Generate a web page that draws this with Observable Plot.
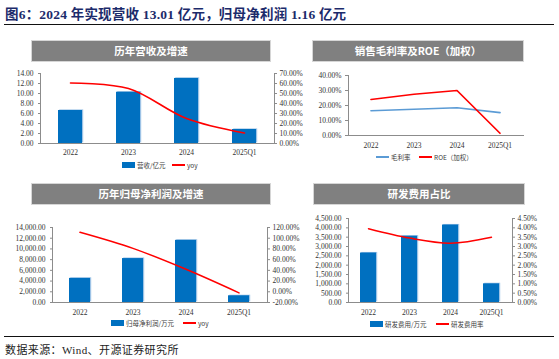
<!DOCTYPE html>
<html><head><meta charset="utf-8">
<script src="https://cdn.jsdelivr.net/npm/d3@7"></script>
<script src="https://cdn.jsdelivr.net/npm/@observablehq/plot@0.6"></script>
<style>
html,body{margin:0;padding:0;background:#fff;}
#page{position:relative;width:559px;height:359px;overflow:hidden;background:#fff;}
#page svg text{font-family:"Liberation Serif",serif !important;font-size:7.5px;fill:#333;}
.abs{position:absolute;}
.title{left:5px;top:3px;font:bold 13.5px "Liberation Serif","Noto Sans CJK SC",serif;color:#1c2b6b;white-space:nowrap;letter-spacing:0.2px;}
.rule{height:1px;background:#111;left:4px;width:550px;}
.hdr{background:#808080;border:1px solid #d6d6d6;color:#fff;font:bold 10.5px "Noto Sans CJK SC",sans-serif;text-align:center;box-sizing:border-box;}
.lg{font:6.5px "Noto Sans CJK SC","Liberation Serif",sans-serif;color:#404040;white-space:nowrap;}
.src{left:5px;top:341px;font:11px "Liberation Serif","Noto Sans CJK SC",serif;color:#222;white-space:nowrap;letter-spacing:0.4px;}
</style></head>
<body><div id="page"></div>
<script>
const categories = ["2022","2023","2024","2025Q1"];
const revenue = [6.6, 10.25, 13.01, 2.8];          // 营收/亿元
const revenueYoy = [60.5, 55, 25, 10.5];           // yoy %
const grossMargin = [16.5, 17.5, 18.5, 15.2];      // 毛利率 %
const roe = [24, 27.5, 30, 1.5];                   // ROE（加权）%
const netProfit = [4500, 8200, 11600, 1250];       // 归母净利润/万元
const netProfitYoy = [111, 81, 42, -2];            // yoy %
const rdExpense = [2650, 3550, 4150, 1000];        // 研发费用/万元
const rdRatio = [3.95, 3.45, 3.18, 3.5];           // 研发费用率 %

const page = document.getElementById("page");
function div(cls, style, text){const d=document.createElement("div");d.className="abs "+cls;Object.assign(d.style,style);if(text!=null)d.textContent=text;page.appendChild(d);return d;}

div("title",{},"图6：2024 年实现营收 13.01 亿元，归母净利润 1.16 亿元");
div("rule",{top:"24px"});
div("rule",{top:"336px"});
div("src",{},"数据来源：Wind、开源证券研究所");

div("hdr",{left:"31px",top:"40px",width:"240px",height:"22px",lineHeight:"20px"},"历年营收及增速");
div("hdr",{left:"312px",top:"40px",width:"212px",height:"22px",lineHeight:"20px"},"销售毛利率及ROE（加权）");
div("hdr",{left:"31px",top:"183px",width:"240px",height:"22px",lineHeight:"20px"},"历年归母净利润及增速");
div("hdr",{left:"313px",top:"183px",width:"212px",height:"22px",lineHeight:"20px"},"研发费用占比");

function legend(items, y){
  for(const it of items){
    div("",{left:it.x+"px",top:(it.type==="bar"? y-3 : y-1)+"px",width:"13px",height:(it.type==="bar"?"6px":"2px"),background:it.color});
    div("lg",{left:(it.x+15)+"px",top:(y-5)+"px"},it.label);
  }
}
legend([{x:122,type:"bar",color:"#0070C0",label:"营收/亿元"},{x:172,type:"line",color:"#FF0000",label:"yoy"}],165);
legend([{x:376,type:"line",color:"#5B9BD5",label:"毛利率"},{x:419,type:"line",color:"#FF0000",label:"ROE（加权）"}],157);
legend([{x:111,type:"bar",color:"#0070C0",label:"归母净利润/万元"},{x:183,type:"line",color:"#FF0000",label:"yoy"}],323);
legend([{x:370,type:"bar",color:"#0070C0",label:"研发费用/万元"},{x:436,type:"line",color:"#FF0000",label:"研发费用率"}],324);

const axisColor = "#8c8c8c";
const baseStyle = {fontFamily:"Liberation Serif, serif",fontSize:"7.5px",background:"transparent",overflow:"visible",color:"#333"};

function place(svg,left,top){svg.style.position="absolute";svg.style.left=left+"px";svg.style.top=top+"px";page.appendChild(svg);}

function xScale(p){return {type:"band",domain:categories,paddingInner:p,paddingOuter:p/2};}
function bars(rows,key){
  return [
    Plot.barY(rows,{x:"cat",y:key,fill:"#9DC3E6",dx:1.2,dy:-0.6}),
    Plot.barY(rows,{x:"cat",y:key,fill:"#0070C0"})
  ];
}
function frames(sides){return sides.map(a=>Plot.frame({anchor:a,stroke:axisColor}));}

// ---- Top-left: 营收 ----
{
  const rows = categories.map((c,i)=>({cat:c,v:revenue[i],yoy:revenueYoy[i]}));
  const ticks = d3.range(0,15,2);
  const k = 14/70;
  const svg = Plot.plot({
    width:310,height:100,marginLeft:40,marginRight:36,marginTop:11,marginBottom:19,
    style:baseStyle,
    x:xScale(0.59),
    y:{domain:[0,14]},
    marks:[
      ...bars(rows,"v"),
      Plot.line(rows,{x:"cat",y:d=>d.yoy*k,stroke:"#FF0000",strokeWidth:1.6,curve:"catmull-rom"}),
      Plot.axisY({ticks,tickFormat:d=>d.toFixed(2),anchor:"left",tickSize:2,tickPadding:5,label:null,stroke:axisColor}),
      Plot.axisY({ticks,tickFormat:d=>(d/k).toFixed(2)+"%",anchor:"right",tickSize:2,tickPadding:3,label:null,stroke:axisColor}),
      Plot.axisX({tickSize:0,tickPadding:6,label:null}),
      ...frames(["left","bottom","right"])
    ]
  });
  place(svg,0,62);
}

// ---- Top-right: 毛利率 & ROE ----
{
  const rows = categories.map((c,i)=>({cat:c,gm:grossMargin[i],roe:roe[i]}));
  const svg = Plot.plot({
    width:265,height:90,marginLeft:58,marginRight:32,marginTop:11,marginBottom:19,
    style:baseStyle,
    x:xScale(0.6),
    y:{domain:[0,40]},
    marks:[
      Plot.line(rows,{x:"cat",y:"gm",stroke:"#5B9BD5",strokeWidth:1.7}),
      Plot.line(rows,{x:"cat",y:"roe",stroke:"#FF0000",strokeWidth:1.7}),
      Plot.axisY({ticks:[0,10,20,30,40],tickFormat:d=>d.toFixed(2)+"%",anchor:"left",tickSize:3,tickPadding:4,label:null,stroke:axisColor}),
      Plot.axisX({tickSize:0,tickPadding:7,label:null}),
      ...frames(["left","bottom"])
    ]
  });
  place(svg,290,64);
}

// ---- Bottom-left: 归母净利润 ----
{
  const rows = categories.map((c,i)=>({cat:c,v:netProfit[i],yoy:netProfitYoy[i]}));
  const ticks = d3.range(0,14001,2000);
  const toLeft = p => (p+20)*100;
  const svg = Plot.plot({
    width:310,height:105,marginLeft:52,marginRight:43,marginTop:12,marginBottom:18,
    style:baseStyle,
    x:xScale(0.6),
    y:{domain:[0,14000]},
    marks:[
      ...bars(rows,"v"),
      Plot.line(rows,{x:"cat",y:d=>toLeft(d.yoy),stroke:"#FF0000",strokeWidth:1.5,curve:"catmull-rom"}),
      Plot.axisY({ticks,tickFormat:d3.format(",.2f"),anchor:"left",tickSize:2,tickPadding:5,label:null,stroke:axisColor}),
      Plot.axisY({ticks,tickFormat:d=>(d/100-20).toFixed(2)+"%",anchor:"right",tickSize:2,tickPadding:3,label:null,stroke:axisColor}),
      Plot.axisX({tickSize:0,tickPadding:7,label:null}),
      ...frames(["left","bottom","right"])
    ]
  });
  place(svg,0,215);
}

// ---- Bottom-right: 研发费用 ----
{
  const rows = categories.map((c,i)=>({cat:c,v:rdExpense[i],r:rdRatio[i]}));
  const ticks = d3.range(0,4501,500);
  const svg = Plot.plot({
    width:265,height:113,marginLeft:58,marginRight:43,marginTop:11,marginBottom:18,
    style:baseStyle,
    x:xScale(0.6),
    y:{domain:[0,4500]},
    marks:[
      ...bars(rows,"v"),
      Plot.line(rows,{x:"cat",y:d=>d.r*1000,stroke:"#FF0000",strokeWidth:1.5,curve:"catmull-rom"}),
      Plot.axisY({ticks,tickFormat:d3.format(",.2f"),anchor:"left",tickSize:2,tickPadding:5,label:null,stroke:axisColor}),
      Plot.axisY({ticks,tickFormat:d=>(d/1000).toFixed(2)+"%",anchor:"right",tickSize:2,tickPadding:3,label:null,stroke:axisColor}),
      Plot.axisX({tickSize:0,tickPadding:7,label:null}),
      ...frames(["left","bottom","right"])
    ]
  });
  place(svg,290,207);
}
</script>
</body></html>
